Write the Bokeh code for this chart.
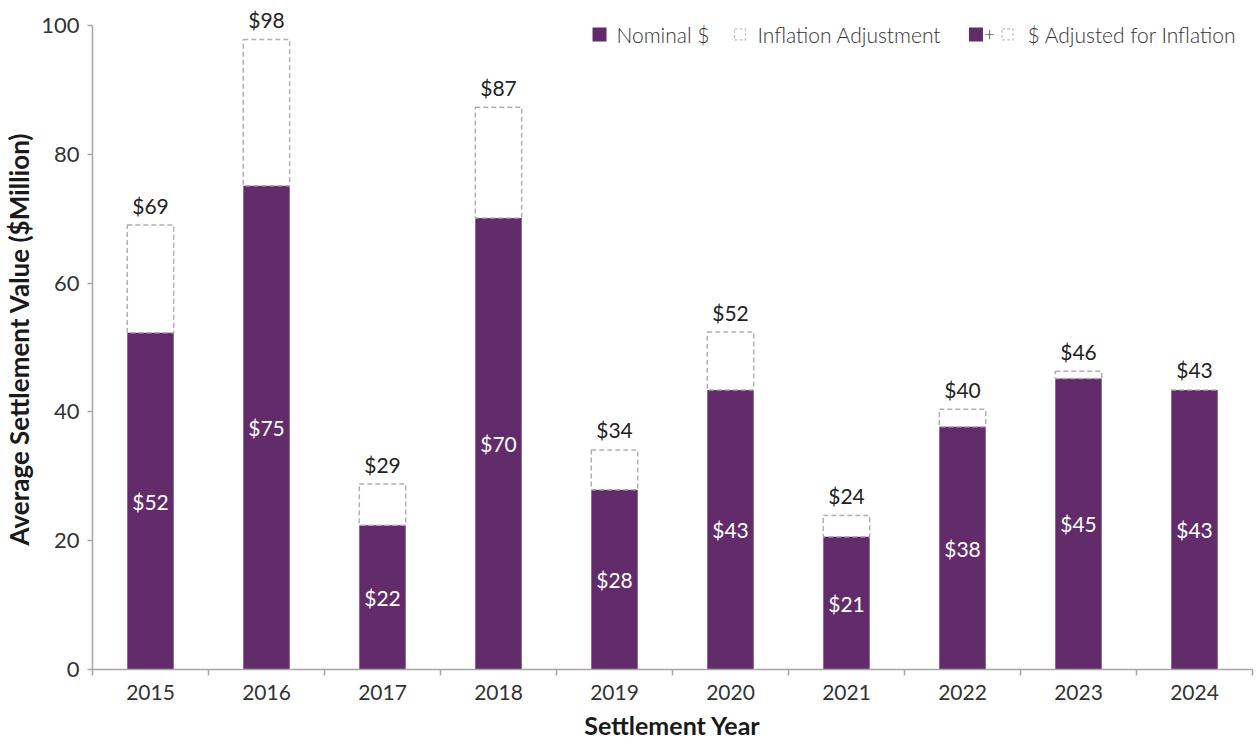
from bokeh.plotting import figure
from bokeh.models import Range1d, FixedTicker, ColumnDataSource
from bokeh.core.properties import value
from bokeh.embed import file_html
from bokeh.resources import INLINE

# ---- data ----
years = ["2015", "2016", "2017", "2018", "2019", "2020", "2021", "2022", "2023", "2024"]
nominal = [52.3, 75.1, 22.4, 70.1, 27.9, 43.4, 20.6, 37.7, 45.2, 43.4]
adjusted = [69.0, 97.8, 28.8, 87.3, 34.1, 52.4, 23.9, 40.4, 46.3, 43.4]
nominal_labels = ["$52", "$75", "$22", "$70", "$28", "$43", "$21", "$38", "$45", "$43"]
adjusted_labels = ["$69", "$98", "$29", "$87", "$34", "$52", "$24", "$40", "$46", "$43"]
y_ticks = [0, 20, 40, 60, 80, 100]
legend_labels = ["Nominal $", "Inflation Adjustment", "$ Adjusted for Inflation"]
x_title = "Settlement Year"
y_title = "Average Settlement Value ($Million)"

PURPLE = "#622b6a"
DASH_GRAY = "#b0b0b0"
AXIS_GRAY = "#a6a6a6"
FONT_NAME = "Lato"
FONT = value(FONT_NAME)
LIGHT_FONT = value("Lato Light")

idx = list(range(len(years)))
src = ColumnDataSource(dict(
    x=idx,
    nominal=nominal,
    adjusted=adjusted,
    mid=[v / 2 for v in nominal],
    nom_label=nominal_labels,
    adj_label=adjusted_labels,
))

p = figure(
    width=1258, height=742,
    x_range=Range1d(-0.5, len(years) - 0.5),
    y_range=Range1d(0, 102.63),
    output_backend="svg", toolbar_location=None,
    min_border_left=92, min_border_right=6, min_border_top=8, min_border_bottom=71,
    x_axis_label=x_title,
    y_axis_label=y_title,
)
p.outline_line_color = None
p.xgrid.visible = False
p.ygrid.visible = False
p.background_fill_color = "white"
p.border_fill_color = "white"

# bars
p.vbar(x="x", top="nominal", bottom=0, width=0.4, fill_color=PURPLE,
       line_color=None, source=src)
p.vbar(x="x", bottom="nominal", top="adjusted", width=0.4, fill_color=None,
       line_color=DASH_GRAY, line_dash="5 3", line_width=1.5, source=src)

# labels
p.text(x="x", y="adjusted", text="adj_label", source=src, text_align="center",
       text_baseline="alphabetic", y_offset=-20, text_font=FONT,
       text_font_size="21px", text_color="#222222")
p.text(x="x", y="mid", text="nom_label", source=src, text_align="center",
       text_baseline="middle", text_font=FONT, text_font_size="21px",
       text_color="white")

# legend (drawn manually: third entry is a composite swatch)
LEG_Y = 98.6
p.scatter(x=[3.871], y=[LEG_Y], marker="square", size=14, fill_color=PURPLE,
          line_color=None)
p.scatter(x=[5.082, 7.388], y=[LEG_Y, LEG_Y], marker="square", size=11,
          fill_color=None, line_color="#c4c4c4", line_dash="3 2", line_width=1.2)
p.scatter(x=[7.116], y=[LEG_Y], marker="square", size=14, fill_color=PURPLE,
          line_color=None)
p.text(x=[7.233], y=[LEG_Y], text=["+"], text_align="center", text_baseline="middle",
       text_font=LIGHT_FONT, text_font_size="19px", text_color="#333333")
p.text(x=[4.017, 5.233, 7.560], y=[LEG_Y] * 3, text=legend_labels,
       text_align="left", text_baseline="middle", text_font=LIGHT_FONT,
       text_font_size="21px", text_color="#333333")

# x axis
xa = p.xaxis[0]
xa.ticker = FixedTicker(ticks=idx, minor_ticks=[i - 0.5 for i in range(len(years) + 1)])
xa.major_label_overrides = {i: y for i, y in zip(idx, years)}
xa.major_tick_in = 0
xa.major_tick_out = 0
xa.minor_tick_in = 0
xa.minor_tick_out = 6
xa.minor_tick_line_color = AXIS_GRAY
xa.minor_tick_line_width = 1.5
xa.axis_line_color = AXIS_GRAY
xa.axis_line_width = 1.5
xa.major_label_text_font = FONT_NAME
xa.major_label_text_font_size = "21px"
xa.major_label_text_color = "#333333"
xa.major_label_standoff = 9
xa.axis_label_text_font = FONT_NAME
xa.axis_label_text_font_style = "bold"
xa.axis_label_text_font_size = "25px"
xa.axis_label_text_color = "#1a1a1a"
xa.axis_label_standoff = 7

# y axis
ya = p.yaxis[0]
ya.ticker = FixedTicker(ticks=y_ticks)
ya.bounds = (0, 100)
ya.major_tick_in = 0
ya.major_tick_out = 5
ya.minor_tick_line_color = None
ya.major_tick_line_color = AXIS_GRAY
ya.major_tick_line_width = 1.5
ya.axis_line_color = AXIS_GRAY
ya.axis_line_width = 1.5
ya.major_label_text_font = FONT_NAME
ya.major_label_text_font_size = "22px"
ya.major_label_text_color = "#333333"
ya.major_label_standoff = 8
ya.axis_label_text_font = FONT_NAME
ya.axis_label_text_font_style = "bold"
ya.axis_label_text_font_size = "26px"
ya.axis_label_text_color = "#1a1a1a"
ya.axis_label_standoff = 3

open("out.html", "w").write(file_html(p, INLINE))
